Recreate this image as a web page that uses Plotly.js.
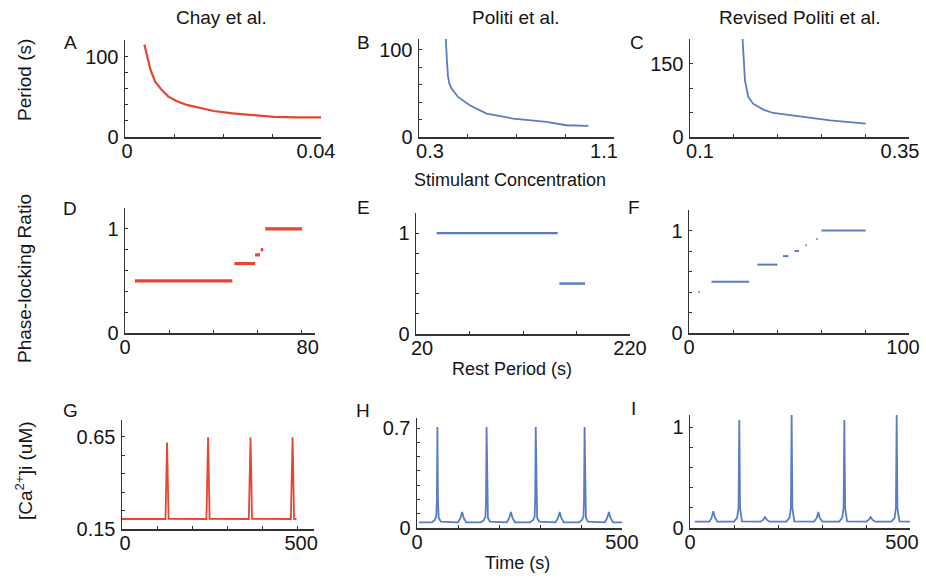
<!DOCTYPE html>
<html><head><meta charset="utf-8">
<script src="https://cdn.plot.ly/plotly-3.0.1.min.js"></script>
<style>html,body{margin:0;padding:0;background:#fff}#plot{width:926px;height:580px}</style>
</head><body><div id="plot"></div>
<script>
// ---- Data ----
// A: Chay et al. period vs stimulant concentration
const A_x = [0.00395, 0.0045, 0.0052, 0.00613, 0.0075, 0.00886, 0.0105, 0.0126, 0.0155, 0.0181, 0.022, 0.0256, 0.0303, 0.035, 0.04];
const A_y = [115.5, 100, 84, 69.3, 58.5, 50.4, 45, 40, 35.5, 32.4, 29.5, 27.3, 25.2, 24.6, 24.4];
// B: Politi et al.
const B_x = [0.405, 0.41, 0.414, 0.419, 0.425, 0.433, 0.46, 0.508, 0.577, 0.686, 0.823, 0.905, 0.995];
const B_y = [125, 113.5, 90, 69.2, 61, 55.8, 46, 36.5, 26.9, 21.2, 17.3, 13.5, 12.7];
// C: Revised Politi et al.
const C_x = [0.159, 0.16, 0.1627, 0.1665, 0.172, 0.1836, 0.195, 0.2216, 0.26, 0.3006];
const C_y = [215, 201, 116, 81.8, 68, 56, 49, 42.3, 34, 27.3];
// D: phase-locking ratio (Chay) — segments [xStart, xEnd, ratio]
const D_seg = [[4.5, 48.6, 0.5], [49.5, 58.9, 0.667], [58.9, 61.1, 0.75], [61.4, 62.6, 0.8], [63.5, 80.1, 1.0]];
// E: phase-locking ratio (Politi)
const E_seg = [[39.3, 152.4, 1.0], [154, 178, 0.5]];
// F: phase-locking ratio (Revised Politi)
const F_seg = [[4.2, 4.8, 0.4], [10.2, 27.3, 0.5], [31.1, 40.2, 0.667], [42.7, 45.2, 0.75], [47.9, 50, 0.8], [53.0, 53.6, 0.857], [57.9, 58.5, 0.917], [60.2, 80.3, 1.0]];
// G: [Ca2+]i time course (Chay)
const G_t = [0, 124, 126.8, 128.6, 130.4, 133, 241, 244, 245.7, 247.4, 250, 362, 365, 366.8, 368.6, 371, 482, 485, 486.8, 488.6, 491, 498];
const G_y = [0.204, 0.204, 0.45, 0.618, 0.45, 0.205, 0.204, 0.48, 0.646, 0.48, 0.205, 0.204, 0.48, 0.646, 0.48, 0.205, 0.204, 0.48, 0.646, 0.48, 0.205, 0.204];
// H: [Ca2+]i time course (Politi)
const H_t = [5, 36, 43, 47, 48.5, 49.8, 51.1, 53, 58, 100, 106, 110, 114, 120, 156, 163, 167, 168.4, 169.7, 171, 173, 178, 219, 225, 229, 233, 239, 276, 283, 287, 288.3, 289.6, 290.9, 293, 298, 338, 344, 348, 352, 358, 395, 402, 406, 407.4, 408.7, 410, 412, 417, 458, 464, 468, 472, 478, 500];
const H_y = [0.04, 0.04, 0.055, 0.08, 0.2, 0.707, 0.2, 0.07, 0.045, 0.04, 0.07, 0.113, 0.07, 0.04, 0.04, 0.055, 0.08, 0.2, 0.707, 0.2, 0.07, 0.045, 0.04, 0.07, 0.113, 0.07, 0.04, 0.04, 0.055, 0.08, 0.2, 0.707, 0.2, 0.07, 0.045, 0.04, 0.07, 0.113, 0.07, 0.04, 0.04, 0.055, 0.08, 0.2, 0.707, 0.2, 0.07, 0.045, 0.04, 0.07, 0.113, 0.07, 0.04, 0.04];
// I: [Ca2+]i time course (Revised Politi)
const I_t = [11, 44, 49, 53, 57, 62, 100, 107, 110.3, 112, 113.7, 118, 160, 166, 170.5, 175, 181, 219, 226, 229.3, 231, 232.7, 237, 282, 288, 291.7, 295, 301, 339, 346, 349.1, 350.8, 352.5, 357, 400, 406, 410.6, 415, 421, 458, 465, 468, 469.7, 471.4, 476, 502];
const I_y = [0.063, 0.063, 0.1, 0.165, 0.1, 0.063, 0.063, 0.1, 0.2, 1.07, 0.2, 0.065, 0.063, 0.08, 0.109, 0.08, 0.063, 0.063, 0.1, 0.2, 1.12, 0.2, 0.065, 0.063, 0.1, 0.158, 0.1, 0.063, 0.063, 0.1, 0.2, 1.07, 0.2, 0.065, 0.063, 0.08, 0.109, 0.08, 0.063, 0.063, 0.1, 0.2, 1.12, 0.2, 0.065, 0.063];

const colTitles = ["Chay et al.", "Politi et al.", "Revised Politi et al."];
const rowTitles = ["Period (s)", "Phase-locking Ratio", "[Ca<sup>2+</sup>]i (uM)"];
const xTitles = ["Stimulant Concentration", "Rest Period (s)", "Time (s)"];
const letters = ["A", "B", "C", "D", "E", "F", "G", "H", "I"];

// tick values and labels per panel
const ticks = {
  A: {xv: [0, 0.01, 0.02, 0.03, 0.04], xt: ["0", "", "", "", "0.04"], yv: [0, 20, 40, 60, 80, 100], yt: ["0", "", "", "", "", "100"]},
  B: {xv: [0.3, 0.5, 0.7, 0.9, 1.1], xt: ["0.3", "", "", "", "1.1"], yv: [0, 20, 40, 60, 80, 100], yt: ["0", "", "", "", "", "100"]},
  C: {xv: [0.1, 0.15, 0.2, 0.25, 0.3, 0.35], xt: ["0.1", "", "", "", "", "0.35"], yv: [0, 50, 100, 150], yt: ["0", "", "", "150"]},
  D: {xv: [0, 20, 40, 60, 80], xt: ["0", "", "", "", "80"], yv: [0, 0.2, 0.4, 0.6, 0.8, 1], yt: ["0", "", "", "", "", "1"]},
  E: {xv: [20, 70, 120, 170, 220], xt: ["20", "", "", "", "220"], yv: [0, 0.2, 0.4, 0.6, 0.8, 1], yt: ["0", "", "", "", "", "1"]},
  F: {xv: [0, 20, 40, 60, 80, 100], xt: ["0", "", "", "", "", "100"], yv: [0, 0.2, 0.4, 0.6, 0.8, 1], yt: ["0", "", "", "", "", "1"]},
  G: {xv: [0, 100, 200, 300, 400, 500], xt: ["0", "", "", "", "", "500"], yv: [0.15, 0.25, 0.35, 0.45, 0.55, 0.65], yt: ["0.15", "", "", "", "", "0.65"]},
  H: {xv: [0, 100, 200, 300, 400, 500], xt: ["0", "", "", "", "", "500"], yv: [0, 0.1, 0.2, 0.3, 0.4, 0.5, 0.6, 0.7], yt: ["0", "", "", "", "", "", "", "0.7"]},
  I: {xv: [0, 100, 200, 300, 400, 500], xt: ["0", "", "", "", "", "500"], yv: [0, 0.2, 0.4, 0.6, 0.8, 1], yt: ["0", "", "", "", "", "1"]}
};
const ranges = {
  A: {x: [0, 0.04], y: [0, 121]}, B: {x: [0.3, 1.1], y: [0, 112.5]}, C: {x: [0.1, 0.35], y: [0, 200]},
  D: {x: [0, 86], y: [0, 1.2]}, E: {x: [20, 220], y: [0, 1.2]}, F: {x: [0, 100], y: [0, 1.2]},
  G: {x: [0, 548], y: [0.15, 0.74]}, H: {x: [0, 500], y: [0, 0.77]}, I: {x: [0, 500], y: [0, 1.12]}
};

// ---- Layout geometry (pixels) ----
const W = 926, H = 580;
const box = {
  A: [125, 321, 40, 137], B: [419, 614, 39, 137], C: [690, 909, 39, 137],
  D: [125, 315, 208, 333], E: [416, 630, 213, 334], F: [689, 909, 210, 333],
  G: [122, 314, 420, 529], H: [417, 622, 418, 528], I: [690, 910, 415, 528]
};
// pixel nudges of the first / last x tick label (the reference aligns them unevenly)
const labelShift = {A: [2, -5], B: [11, -10], C: [10, -9], D: [0, 6], E: [6, 0], F: [0, -6], G: [3, 4], H: [0, 0], I: [0, -8]};
const RED = "#e8452f", BLUE = "#5a7cc4";
const FONT = "Liberation Sans, Arial, Helvetica, sans-serif";
const INK = "#151515";

function segTrace(seg) {
  const x = [], y = [];
  seg.forEach(s => { x.push(s[0], s[1], null); y.push(s[2], s[2], null); });
  return {x, y};
}
const dD = segTrace(D_seg), dE = segTrace(E_seg), dF = segTrace(F_seg);

const series = {
  A: {x: A_x, y: A_y, c: RED, w: 2.2},
  B: {x: B_x, y: B_y, c: BLUE, w: 1.8},
  C: {x: C_x, y: C_y, c: BLUE, w: 1.8},
  D: {x: dD.x, y: dD.y, c: RED, w: 3.2},
  E: {x: dE.x, y: dE.y, c: BLUE, w: 2.4},
  F: {x: dF.x, y: dF.y, c: BLUE, w: 2.0},
  G: {x: G_t, y: G_y, c: RED, w: 1.8},
  H: {x: H_t, y: H_y, c: BLUE, w: 1.8},
  I: {x: I_t, y: I_y, c: BLUE, w: 1.8}
};

const data = [];
const layout = {
  width: W, height: H, margin: {l: 0, r: 0, t: 0, b: 0},
  paper_bgcolor: "#fff", plot_bgcolor: "rgba(0,0,0,0)", showlegend: false,
  font: {family: FONT, color: INK}, annotations: []
};
const tickFont = {family: FONT, size: 20, color: INK};

letters.forEach((L, i) => {
  const n = i + 1;
  const sfx = n === 1 ? "" : String(n);
  const s = series[L];
  data.push({x: s.x, y: s.y, mode: "lines", line: {color: s.c, width: s.w, shape: "linear"},
    xaxis: "x" + sfx, yaxis: "y" + sfx, cliponaxis: true, hoverinfo: "skip", connectgaps: false});
  const b = box[L], t = ticks[L], r = ranges[L];
  const last = t.xv.length - 1;
  const common = {showline: true, linecolor: "#333", linewidth: 1.5, showgrid: false, zeroline: false,
    ticks: "inside", ticklen: 3, tickwidth: 1, tickcolor: "#333", tickmode: "array",
    tickfont: tickFont, fixedrange: true, ticklabeloverflow: "allow"};
  // main x axis: line and tick marks only
  layout["xaxis" + sfx] = Object.assign({}, common, {
    domain: [b[0] / W, b[1] / W], range: r.x, tickvals: t.xv, showticklabels: false,
    anchor: "y" + sfx
  });
  // two overlaid x axes carry the first and last tick labels, each with its own nudge
  [[0, n + 9], [last, n + 18]].forEach(([k, ax], j) => {
    data.push({x: [null], y: [null], mode: "lines", xaxis: "x" + ax, yaxis: "y" + sfx, hoverinfo: "skip"});
    layout["xaxis" + ax] = {
      overlaying: "x" + sfx, anchor: "y" + sfx, side: "bottom", domain: [b[0] / W, b[1] / W], range: r.x,
      showline: false, showgrid: false, zeroline: false, ticks: "", tickmode: "array",
      tickvals: [t.xv[k]], ticktext: [t.xt[k]], tickfont: tickFont, fixedrange: true,
      ticklabeloverflow: "allow", ticklabelstandoff: 0, ticklabelshift: labelShift[L][j]
    };
  });
  layout["yaxis" + sfx] = Object.assign({}, common, {
    domain: [1 - b[3] / H, 1 - b[2] / H], range: r.y, tickvals: t.yv, ticktext: t.yt,
    anchor: "x" + sfx, ticklabelstandoff: 1
  });
});

function ann(text, px, py, size, extra) {
  layout.annotations.push(Object.assign({text, x: px / W, y: 1 - py / H, xref: "paper", yref: "paper",
    showarrow: false, xanchor: "center", yanchor: "middle", font: {family: FONT, size, color: INK}}, extra || {}));
}
// column titles
ann(colTitles[0], 221, 17, 19);
ann(colTitles[1], 516, 17, 19);
ann(colTitles[2], 800, 17, 19);
// row titles
ann(rowTitles[0], 24, 80, 19, {textangle: -90});
ann(rowTitles[1], 24, 279, 19, {textangle: -90});
ann(rowTitles[2], 24, 471, 19, {textangle: -90});
// x titles
ann(xTitles[0], 510, 180, 18);
ann(xTitles[1], 512, 369, 18);
ann(xTitles[2], 517, 563, 18);
// panel letters
const letterPos = {A: [70, 43], B: [363, 43], C: [637, 43], D: [70, 208], E: [363, 207], F: [634, 207], G: [70, 410], H: [363, 410], I: [633, 408]};
letters.forEach(L => ann(L, letterPos[L][0], letterPos[L][1], 19));

Plotly.newPlot("plot", data, layout, {staticPlot: true, displayModeBar: false});
</script>
</body></html>
